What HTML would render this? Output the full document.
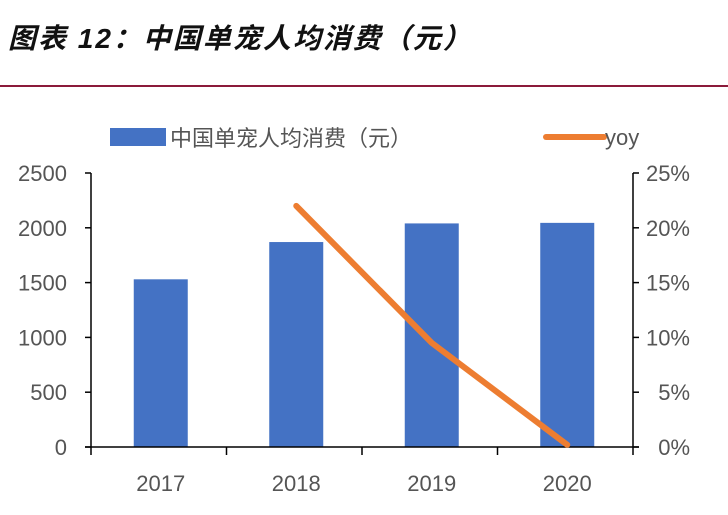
<!DOCTYPE html>
<html><head><meta charset="utf-8"><style>
body{margin:0;background:#fff;width:728px;height:510px;overflow:hidden}
svg text{font-family:"Liberation Sans","Noto Sans CJK SC",sans-serif}
</style></head><body>
<svg width="728" height="510" xmlns="http://www.w3.org/2000/svg">
<text x="8" y="48" font-size="28" letter-spacing="2" font-weight="bold" font-style="italic" fill="#111" style='font-family:"Liberation Sans","Noto Sans CJK SC",sans-serif'>图表 12：中国单宠人均消费（元）</text>
<line x1="0" y1="86" x2="728" y2="86" stroke="#8b1a3a" stroke-width="2"/>
<g id="plot"></g>
<rect x="110" y="128" width="56" height="18" fill="#4472c4"/>
<text x="170" y="146" font-size="22" fill="#555">中国单宠人均消费（元）</text>
<line x1="546" y1="137" x2="604" y2="137" stroke="#ed7d31" stroke-width="6" stroke-linecap="round"/>
<text x="605" y="145" font-size="22" fill="#555">yoy</text>
</svg>
<script>
const categories=["2017","2018","2019","2020"];
const spending=[1530,1870,2040,2045];
const yoy=[null,22,9.5,0.2];
const leftTicks=[0,500,1000,1500,2000,2500];
const rightTicks=["0%","5%","10%","15%","20%","25%"];
const NS="http://www.w3.org/2000/svg";
const g=document.getElementById('plot');
const x0=91,x1=633,y0=447,yTop=173,cw=(x1-x0)/categories.length;
const yL=v=>y0-(v/2500)*(y0-yTop);
const yR=v=>y0-(v/25)*(y0-yTop);
const xC=i=>x0+cw*(i+0.5);
function mk(t,a){const e=document.createElementNS(NS,t);for(const k in a)e.setAttribute(k,a[k]);g.appendChild(e);return e;}
spending.forEach((v,i)=>{
 const r=mk('rect',{x:xC(i)-25,y:yL(v),width:54,height:y0-yL(v),fill:'#4472c4'});
 
 
});
const la=mk('line',{x1:x0,y1:yTop,x2:x0,y2:y0,stroke:'#000','stroke-width':1.5});


const ra=mk('line',{x1:x1,y1:yTop,x2:x1,y2:y0,stroke:'#000','stroke-width':1.5});


const xa=mk('line',{x1:x0-6,y1:y0,x2:x1+6,y2:y0,stroke:'#000','stroke-width':1.5});


leftTicks.forEach(v=>{
 mk('line',{x1:x0-6,y1:yL(v),x2:x0,y2:yL(v),stroke:'#000','stroke-width':1.5});
 const t=mk('text',{x:67,y:yL(v)+8,'font-size':22,fill:'#555','text-anchor':'end'});t.textContent=v;
 
 
});
rightTicks.forEach((s,i)=>{
 const y=yR(i*5);
 mk('line',{x1:x1,y1:y,x2:x1+6,y2:y,stroke:'#000','stroke-width':1.5});
 const t=mk('text',{x:690,y:y+8,'font-size':22,fill:'#555','text-anchor':'end'});t.textContent=s;
 
 
});
for(let i=0;i<=categories.length;i++){mk('line',{x1:x0+cw*i,y1:y0,x2:x0+cw*i,y2:y0+8,stroke:'#000','stroke-width':1.5});}
categories.forEach((c,i)=>{
 const t=mk('text',{x:xC(i)+2,y:491,'font-size':22,fill:'#555','text-anchor':'middle'});t.textContent=c;
 
 
});
const pts=yoy.map((v,i)=>v==null?null:[xC(i)+2,yR(v)]).filter(p=>p);
const pl=mk('polyline',{points:pts.map(p=>p.join(',')).join(' '),fill:'none',stroke:'#ed7d31','stroke-width':6,'stroke-linecap':'round','stroke-linejoin':'round'});


</script>
</body></html>
